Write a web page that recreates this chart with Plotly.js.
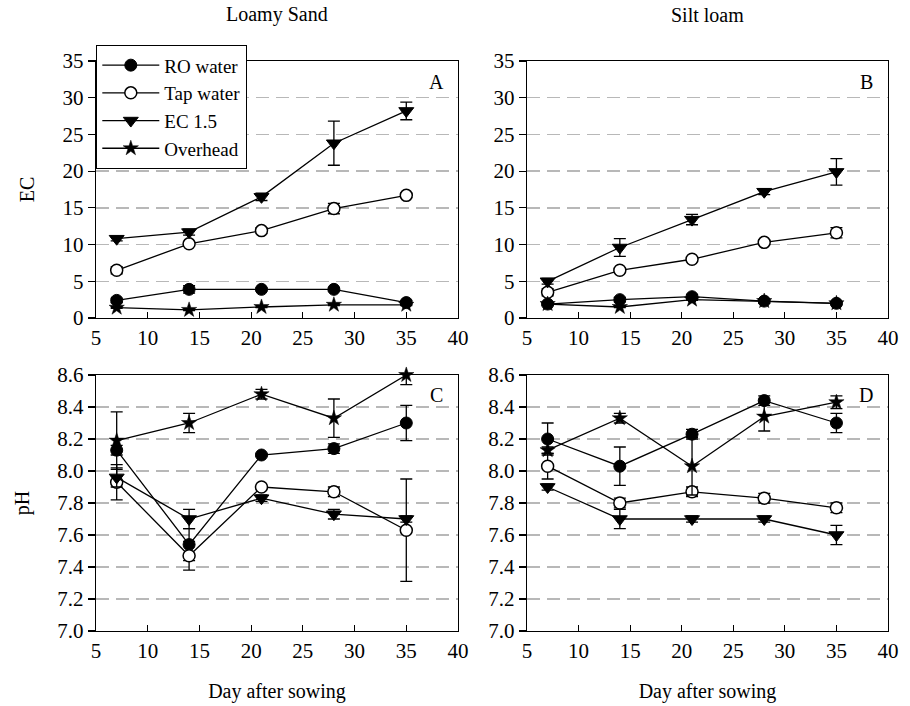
<!DOCTYPE html>
<html>
<head>
<meta charset="utf-8">
<script src="https://cdn.plot.ly/plotly-3.0.1.min.js"></script>
<style>html,body{margin:0;padding:0;background:#fff;}#chart{width:910px;height:706px;}</style>
</head>
<body>
<div id="chart"></div>
<script>
// ---- data ----
const days = [7, 14, 21, 28, 35];
const seriesNames = ["RO water", "Tap water", "EC 1.5", "Overhead"];

// Panel A: EC, Loamy Sand
const roA = [2.4, 3.9, 3.9, 3.9, 2.1];     const roAerr = [0.3, 0.5, 0.2, 0.2, 0.3];
const tapA = [6.5, 10.1, 11.9, 14.9, 16.7]; const tapAerr = [0.5, 0.3, 0.4, 0.7, 0.3];
const ecA = [10.8, 11.7, 16.5, 23.8, 28.2]; const ecAerr = [0.3, 0.4, 0.5, 3.0, 1.2];
const ovA = [1.4, 1.1, 1.5, 1.8, 1.8];      const ovAerr = [0.1, 0.1, 0.1, 0.1, 0.1];

// Panel B: EC, Silt loam
const roB = [1.9, 2.5, 2.9, 2.3, 2.0];      const roBerr = [0.2, 0.3, 0.3, 0.3, 0.2];
const tapB = [3.5, 6.5, 8.0, 10.3, 11.6];   const tapBerr = [0.5, 0.3, 0.3, 0.3, 0.7];
const ecB = [5.0, 9.6, 13.4, 17.2, 19.9];   const ecBerr = [0.4, 1.2, 0.7, 0.4, 1.8];
const ovB = [1.9, 1.5, 2.5, 2.3, 2.0];      const ovBerr = [0.1, 0.1, 0.1, 0.1, 0.1];

// Panel C: pH, Loamy Sand
const roC = [8.13, 7.54, 8.10, 8.14, 8.30];  const roCerr = [0.03, 0.10, 0.01, 0.03, 0.11];
const tapC = [7.93, 7.47, 7.90, 7.87, 7.63]; const tapCerr = [0.11, 0.09, 0.01, 0.03, 0.32];
const ecC = [7.96, 7.70, 7.83, 7.73, 7.70];  const ecCerr = [0.06, 0.06, 0.02, 0.03, 0.02];
const ovC = [8.19, 8.30, 8.48, 8.33, 8.60];  const ovCerr = [0.18, 0.06, 0.03, 0.12, 0.06];

// Panel D: pH, Silt loam
const roD = [8.20, 8.03, 8.23, 8.44, 8.30];  const roDerr = [0.10, 0.12, 0.03, 0.03, 0.06];
const tapD = [8.03, 7.80, 7.87, 7.83, 7.77]; const tapDerr = [0.08, 0.03, 0.03, 0.03, 0.03];
const ecD = [7.90, 7.70, 7.70, 7.70, 7.60];  const ecDerr = [0.02, 0.06, 0.02, 0.02, 0.06];
const ovD = [8.13, 8.33, 8.03, 8.34, 8.43];  const ovDerr = [0.02, 0.03, 0.18, 0.09, 0.04];

const panelLetters = ["A", "B", "C", "D"];
const soilTitles = ["Loamy Sand", "Silt loam"];
const xTitle = "Day after sowing";
const yTitles = ["EC", "pH"];

// ---- styling ----
const FONT = "Liberation Serif";
const FS = 20, TFS = 21, LFS = 19;
const markerStyles = [
  {symbol: "circle", size: 12, color: "black", line: {color: "black", width: 1}},
  {symbol: "circle", size: 12, color: "white", line: {color: "black", width: 1.5}},
  {symbol: "triangle-down", size: 13, color: "black", line: {color: "black", width: 1}},
  {symbol: "star", size: 11.5, color: "black", line: {color: "black", width: 0.5}}
];

const panels = [
  {xa: "x", ya: "y", data: [[roA, roAerr], [tapA, tapAerr], [ecA, ecAerr], [ovA, ovAerr]]},
  {xa: "x2", ya: "y2", data: [[roB, roBerr], [tapB, tapBerr], [ecB, ecBerr], [ovB, ovBerr]]},
  {xa: "x3", ya: "y3", data: [[roC, roCerr], [tapC, tapCerr], [ecC, ecCerr], [ovC, ovCerr]]},
  {xa: "x4", ya: "y4", data: [[roD, roDerr], [tapD, tapDerr], [ecD, ecDerr], [ovD, ovDerr]]}
];

const traces = [];
panels.forEach((p, pi) => {
  p.data.forEach((d, si) => {
    traces.push({
      type: "scatter", mode: "lines+markers",
      x: days, y: d[0], xaxis: p.xa, yaxis: p.ya,
      name: seriesNames[si], showlegend: pi === 0, legendgroup: seriesNames[si],
      line: {color: "black", width: 1.3},
      marker: markerStyles[si],
      error_y: {type: "data", array: d[1], visible: true, color: "black", thickness: 1.3, width: 6},
      cliponaxis: false
    });
  });
});

const W = 910, H = 706;
const xd = [[96 / W, 458 / W], [527 / W, 888 / W]];
const yd = [[1 - 318 / H, 1 - 61 / H], [1 - 631 / H, 1 - 375 / H]];

function xaxis(dom, anchor) {
  return {
    domain: dom, anchor: anchor, range: [5, 40], dtick: 5, tick0: 5,
    showline: true, mirror: true, linecolor: "black", linewidth: 1.3,
    ticks: "inside", ticklen: 6, tickcolor: "black", tickwidth: 1.2,
    showgrid: false, zeroline: false,
    tickfont: {family: FONT, size: TFS, color: "black"}
  };
}
function yaxis(dom, anchor, range, dtick, fmt) {
  return {
    domain: dom, anchor: anchor, range: range, dtick: dtick, tick0: range[0], tickformat: fmt,
    showline: true, mirror: true, linecolor: "black", linewidth: 1.3,
    ticks: "outside", ticklen: 7, tickcolor: "black", tickwidth: 1.2,
    showgrid: true, gridcolor: "#b8b8b8", gridwidth: 1.5, griddash: "13px,7px",
    zeroline: false,
    tickfont: {family: FONT, size: TFS, color: "black"}
  };
}

const layout = {
  width: W, height: H,
  margin: {l: 0, r: 0, t: 0, b: 0},
  paper_bgcolor: "white", plot_bgcolor: "white",
  font: {family: FONT, size: FS, color: "black"},
  xaxis: xaxis(xd[0], "y"),
  yaxis: yaxis(yd[0], "x", [0, 35], 5, "d"),
  xaxis2: xaxis(xd[1], "y2"),
  yaxis2: yaxis(yd[0], "x2", [0, 35], 5, "d"),
  xaxis3: xaxis(xd[0], "y3"),
  yaxis3: yaxis(yd[1], "x3", [7.0, 8.6], 0.2, ".1f"),
  xaxis4: xaxis(xd[1], "y4"),
  yaxis4: yaxis(yd[1], "x4", [7.0, 8.6], 0.2, ".1f"),
  showlegend: true,
  legend: {
    x: 96 / W, y: 1 - 45 / H, xanchor: "left", yanchor: "top",
    bgcolor: "white", bordercolor: "black", borderwidth: 1.3,
    font: {family: FONT, size: LFS, color: "black"},
    itemwidth: 57, tracegroupgap: 0, entrywidth: 159
  },
  annotations: []
};

// axis titles
layout.xaxis3.title = {text: xTitle, font: {family: FONT, size: FS}, standoff: 22};
layout.xaxis4.title = {text: xTitle, font: {family: FONT, size: FS}, standoff: 22};
layout.yaxis.title = {text: yTitles[0], font: {family: FONT, size: FS}, standoff: 22};
layout.yaxis3.title = {text: yTitles[1], font: {family: FONT, size: FS}, standoff: 22};

// soil column titles
soilTitles.forEach((t, i) => {
  layout.annotations.push({
    text: t, xref: "paper", yref: "paper",
    x: (xd[i][0] + xd[i][1]) / 2, y: 1 - 15 / H, xanchor: "center", yanchor: "middle",
    showarrow: false, font: {family: FONT, size: FS, color: "black"}
  });
});
// panel letters
const letterAxes = [["x", "y"], ["x2", "y2"], ["x3", "y3"], ["x4", "y4"]];
panelLetters.forEach((L, i) => {
  layout.annotations.push({
    text: L, xref: letterAxes[i][0] + " domain", yref: letterAxes[i][1] + " domain",
    x: 0.94, y: 0.92, xanchor: "center", yanchor: "middle",
    showarrow: false, font: {family: FONT, size: FS, color: "black"}
  });
});

Plotly.newPlot("chart", traces, layout, {displayModeBar: false, staticPlot: true});
</script>
</body>
</html>
